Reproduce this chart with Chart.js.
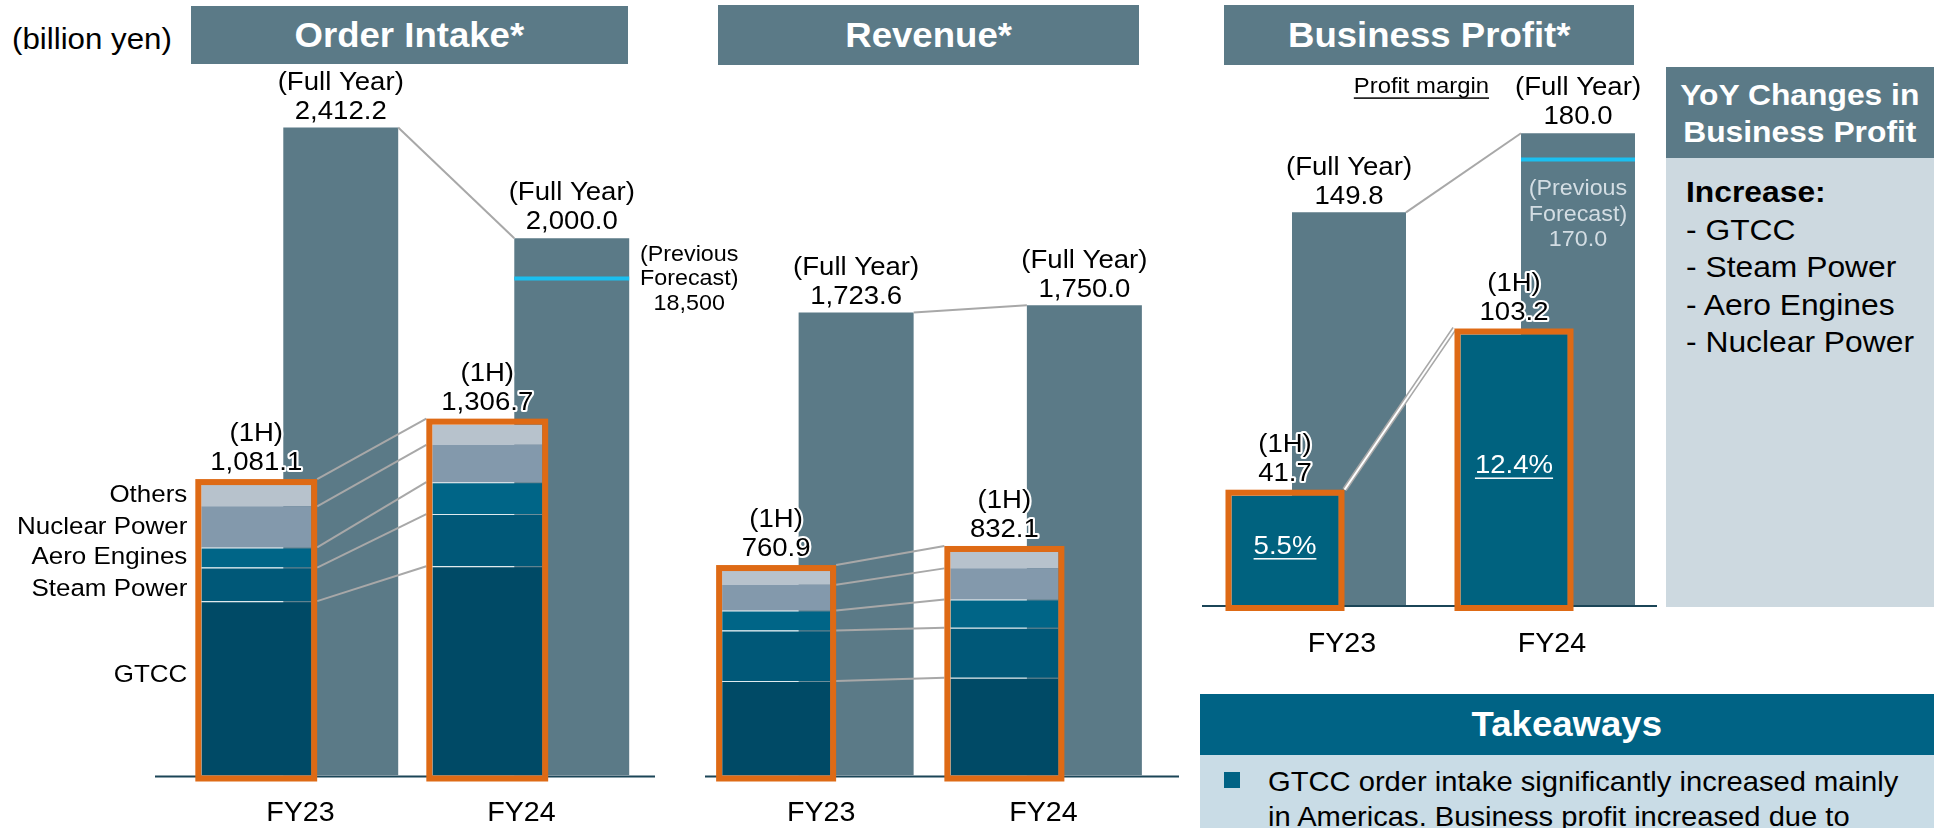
<!DOCTYPE html>
<html>
<head>
<meta charset="utf-8">
<script src="https://cdn.jsdelivr.net/npm/chart.js@4.4.1/dist/chart.umd.min.js"></script>
<style>
  body { margin: 0; width: 1934px; height: 828px; overflow: hidden; background: #fff; position: relative;
         font-family: "Liberation Sans", Arial, sans-serif; }
  canvas { position: absolute; left: 0; top: 0; }
  .hd { position: absolute; background: #5b7a87; color: #fff; font-weight: bold; font-size: 34.5px;
        display: flex; align-items: center; justify-content: center; }
  .sx { display: inline-block; transform: scaleX(1.06); }
  .sxl { display: inline-block; transform: scaleX(1.06); transform-origin: left center; }
</style>
</head>
<body>
<div style="position:absolute;left:12px;top:21px;font-size:29.5px;line-height:36px"><span class="sxl">(billion yen)</span></div>
<div class="hd" style="left:191px;top:6px;width:437px;height:58px"><span class="sx">Order Intake*</span></div>
<div class="hd" style="left:718px;top:5px;width:421px;height:60px"><span class="sx">Revenue*</span></div>
<div class="hd" style="left:1224px;top:5px;width:410px;height:60px"><span class="sx">Business Profit*</span></div>

<div class="hd" style="left:1666px;top:67px;width:268px;height:91px;font-size:30px;line-height:37px;text-align:center">
  <span class="sx">YoY Changes in<br>Business Profit</span></div>
<div style="position:absolute;left:1666px;top:158px;width:268px;height:449px;background:#cdd9e0;font-size:30px;line-height:37.5px;color:#000">
  <div style="padding:15px 0 0 20px">
    <div class="sxl" style="font-weight:bold">Increase:</div><br>
    <div class="sxl">- GTCC</div><br>
    <div class="sxl">- Steam Power</div><br>
    <div class="sxl">- Aero Engines</div><br>
    <div class="sxl">- Nuclear Power</div>
  </div>
</div>

<div class="hd" style="left:1200px;top:694px;width:734px;height:61px;background:#006385"><span class="sx">Takeaways</span></div>
<div style="position:absolute;left:1200px;top:755px;width:734px;height:73px;background:#c9dce6;overflow:hidden">
  <div style="position:absolute;left:24px;top:17px;width:16px;height:16px;background:#006385"></div>
  <div style="position:absolute;left:68px;top:9px;font-size:27.5px;line-height:35px;white-space:nowrap">
    <span class="sxl">GTCC order intake significantly increased mainly</span><br>
    <span class="sxl">in Americas. Business profit increased due to</span>
  </div>
</div>

<canvas id="orderChart" width="1934" height="828"></canvas>
<canvas id="revenueChart" width="1934" height="828"></canvas>
<canvas id="profitChart" width="1934" height="828"></canvas>

<script>
const years = ["FY23", "FY24"];
const segments = ["GTCC", "Steam Power", "Aero Engines", "Nuclear Power", "Others"];

// Order intake (billion yen)
const orderGTCC = [649, 779];
const orderSteam = [125, 194];
const orderAero = [75, 119];
const orderNuclear = [153, 139];
const orderOthers = [79, 75];
const order1H = [1081.1, 1306.7];
const orderFull = [2412.2, 2000.0];
const orderPrevForecast = 1850;
const orderPrevForecastText = "18,500";

// Revenue (billion yen)
const revGTCC = [352, 364];
const revSteam = [188, 186];
const revAero = [74, 105];
const revNuclear = [96, 116];
const revOthers = [51, 61];
const rev1H = [760.9, 832.1];
const revFull = [1723.6, 1750.0];

// Business profit (billion yen)
const profit1H = [41.7, 103.2];
const profitFull = [149.8, 180.0];
const profitPrevForecast = 170.0;
const profitMargin = ["5.5%", "12.4%"];

const segColors = ["#004a66", "#005878", "#006587", "#8399ac", "#b7c2cc"];
const FULL = "#5b7a87";
const ORANGE = "#de6a15";
const CYAN = "#1bbff0";
const LINE = "#a8a8a8";
const SX = 1.06;

const fmt = (v) => v.toLocaleString("en-US", { minimumFractionDigits: 1, maximumFractionDigits: 1 });

function txt(ctx, s, x, y, o = {}) {
  const size = o.size || 26;
  ctx.save();
  ctx.font = (o.bold ? "bold " : "") + size + 'px "Liberation Sans", Arial, sans-serif';
  ctx.textAlign = o.align || "center";
  ctx.textBaseline = "middle";
  ctx.translate(x, y);
  ctx.scale(SX, 1);
  if (o.halo) {
    ctx.lineWidth = 4;
    ctx.lineJoin = "round";
    ctx.strokeStyle = "#fff";
    ctx.strokeText(s, 0, 0);
  }
  ctx.fillStyle = o.color || "#000";
  ctx.fillText(s, 0, 0);
  if (o.underline) {
    const w = ctx.measureText(s).width;
    const x0 = ctx.textAlign === "center" ? -w / 2 : ctx.textAlign === "right" ? -w : 0;
    ctx.fillRect(x0, size * 0.45, w, 1.5);
  }
  ctx.restore();
}

function line(ctx, x1, y1, x2, y2, color, width) {
  ctx.save();
  ctx.strokeStyle = color;
  ctx.lineWidth = width;
  ctx.beginPath();
  ctx.moveTo(x1, y1);
  ctx.lineTo(x2, y2);
  ctx.stroke();
  ctx.restore();
}

function deco(o) {
  return {
    id: "deco",
    beforeDatasetsDraw(chart) {
      const ctx = chart.ctx;
      const b = chart.chartArea.bottom + 1;
      line(ctx, o.baseline[0], b, o.baseline[1], b, "#1b4557", 2);
    },
    afterDatasetsDraw(chart) {
      const ctx = chart.ctx;
      const n = o.stack.length;
      const metas = o.stack.map((_, i) => chart.getDatasetMeta(i).data);
      const full = chart.getDatasetMeta(n).data;
      const yScale = chart.scales.y;
      const xScale = chart.scales.x;
      const box = (j) => {
        const bot = metas[0][j], top = metas[n - 1][j];
        return { l: bot.x - bot.width / 2, r: bot.x + bot.width / 2, t: top.y, b: bot.base, x: bot.x };
      };
      const b0 = box(0), b1 = box(1);
      const f1 = full[1];
      const hasForecast = Number.isFinite(o.forecast);
      const fy = hasForecast ? yScale.getPixelForValue(o.forecast) : 0;

      // previous forecast line
      if (hasForecast) line(ctx, f1.x - f1.width / 2, fy, f1.x + f1.width / 2, fy, CYAN, 4);

      // full year connector
      line(ctx, full[0].x + full[0].width / 2, full[0].y, f1.x - f1.width / 2, f1.y, LINE, 2);

      // 1H connectors
      if (n > 1) {
        for (let k = 0; k < n; k++) {
          const off = k === n - 1 ? 6 : 0;
          line(ctx, b0.r + 6, metas[k][0].y - off, b1.l - 6, metas[k][1].y - off, LINE, 2);
        }
      } else {
        line(ctx, b0.r + 6, b0.t - 6, b1.l - 6, b1.t - 6, LINE, 5);
        line(ctx, b0.r + 6, b0.t - 6, b1.l - 6, b1.t - 6, "#fff", 2);
      }

      // orange frames round the 1H bars
      [b0, b1].forEach((bx) => {
        ctx.save();
        ctx.strokeStyle = ORANGE;
        ctx.lineWidth = 6;
        ctx.strokeRect(bx.l - 3, bx.t - 3, bx.r - bx.l + 6, bx.b - bx.t + 6);
        ctx.restore();
      });

      // value labels
      full.forEach((el, j) => {
        txt(ctx, "(Full Year)", el.x, el.y - 45, { halo: true });
        txt(ctx, fmt(o.full[j]), el.x, el.y - 16, { halo: true });
      });
      [b0, b1].forEach((bx, j) => {
        txt(ctx, "(1H)", bx.x, bx.t - 6 - 45, { halo: true });
        txt(ctx, fmt(o.half[j]), bx.x, bx.t - 6 - 16, { halo: true });
      });

      // segment names beside the FY23 1H bar
      if (n > 1 && o.segLabels) {
        for (let k = 0; k < n; k++) {
          const el = metas[k][0];
          const nudge = [-13, 5, 0, 0, 0][k];
          txt(ctx, segments[k], b0.l - 14, (el.y + el.base) / 2 + nudge, { size: 24.5, align: "right" });
        }
      }

      // forecast text
      if (hasForecast && o.forecastOutside) {
        const cx = f1.x + f1.width / 2 + 60;
        txt(ctx, "(Previous", cx, fy - 24, { size: 22 });
        txt(ctx, "Forecast)", cx, fy, { size: 22 });
        txt(ctx, o.forecastText, cx, fy + 25, { size: 22 });
      } else if (hasForecast) {
        txt(ctx, "(Previous", f1.x, fy + 30, { size: 22, color: "#d3dde3" });
        txt(ctx, "Forecast)", f1.x, fy + 56, { size: 22, color: "#d3dde3" });
        txt(ctx, fmt(o.forecast), f1.x, fy + 81, { size: 22, color: "#d3dde3" });
      }

      // profit margins
      if (o.margins) {
        [b0, b1].forEach((bx, j) => {
          txt(ctx, o.margins[j], bx.x, (bx.t + bx.b) / 2 - 4, { size: 26, color: "#fff", underline: true });
        });
        txt(ctx, "Profit margin", f1.x - f1.width / 2 - 32, f1.y - 46, { size: 22.5, align: "right", underline: true });
      }

      // category labels
      years.forEach((y, i) => {
        txt(ctx, y, xScale.getPixelForTick(i) + o.labelShift[i], chart.chartArea.bottom + o.labelGap, { size: 27 });
      });
    }
  };
}

function barChart(id, o) {
  const datasets = o.stack.map((vals, i) => ({
    label: o.stack.length > 1 ? segments[i] : "1H",
    data: vals,
    backgroundColor: o.stackColors[i],
    borderColor: "rgba(150,185,200,0.3)",
    borderWidth: o.stack.length > 1 && i < 3 ? { top: 1, left: 0, right: 0, bottom: 0 } : 0,
    borderSkipped: false,
    stack: "half",
    order: 0,
    categoryPercentage: o.catPct,
    barPercentage: o.halfPct,
  }));
  datasets.push({
    label: "Full Year",
    data: o.full,
    backgroundColor: FULL,
    stack: "full",
    order: 1,
    categoryPercentage: o.catPct,
    barPercentage: o.fullPct,
  });
  return new Chart(document.getElementById(id), {
    type: "bar",
    data: { labels: years, datasets },
    options: {
      responsive: false,
      animation: false,
      layout: { padding: o.area },
      plugins: { legend: { display: false }, tooltip: { enabled: false } },
      scales: {
        x: { display: false },
        y: { display: false, min: 0, max: o.max },
      },
    },
    plugins: [deco(o)],
  });
}

barChart("orderChart", {
  stack: [orderGTCC, orderSteam, orderAero, orderNuclear, orderOthers],
  stackColors: segColors,
  half: order1H,
  full: orderFull,
  forecast: orderPrevForecast,
  forecastText: orderPrevForecastText,
  forecastOutside: true,
  segLabels: true,
  max: 2600,
  area: { left: 183, right: 1934 - 645, top: 77, bottom: 828 - 775.5 },
  catPct: 0.7316,
  halfPct: 1.30,
  fullPct: 1.36,
  baseline: [155, 655],
  labelShift: [2, -8],
  labelGap: 38,
});

barChart("revenueChart", {
  stack: [revGTCC, revSteam, revAero, revNuclear, revOthers],
  stackColors: segColors,
  half: rev1H,
  full: revFull,
  forecast: null,
  max: 2600,
  area: { left: 702, right: 1934 - 1158.5, top: 77, bottom: 828 - 775.5 },
  catPct: 0.701,
  halfPct: 1.35,
  fullPct: 1.4375,
  baseline: [705, 1179],
  labelShift: [5, -1],
  labelGap: 38,
});

barChart("profitChart", {
  stack: [profit1H],
  stackColors: ["#00627f"],
  half: profit1H,
  full: profitFull,
  forecast: profitPrevForecast,
  forecastOutside: false,
  margins: profitMargin,
  max: 200,
  area: { left: 1202.5, right: 1934 - 1660.5, top: 80.8, bottom: 828 - 605 },
  catPct: 0.559,
  halfPct: 1.672,
  fullPct: 1.781,
  baseline: [1202, 1657],
  labelShift: [25, 6],
  labelGap: 40,
});
</script>
</body>
</html>
